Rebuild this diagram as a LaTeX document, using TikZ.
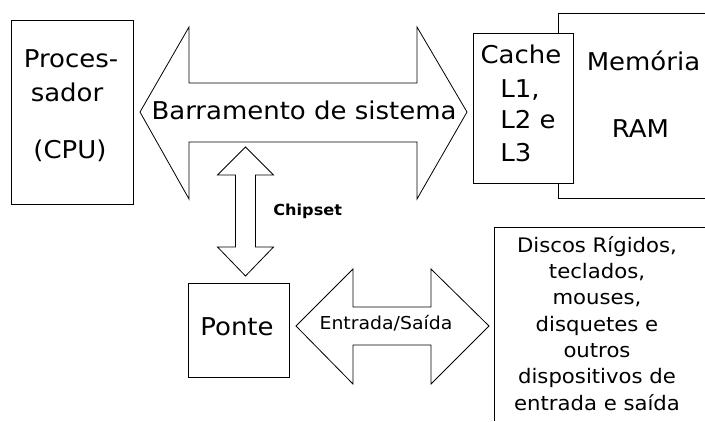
\documentclass[tikz,border=0pt]{standalone}
\usepackage{fontspec}
\setmainfont{DejaVu Sans}[FakeStretch=1.06]
\begin{document}
\begin{tikzpicture}[x=1pt,y=-1pt,line width=0.8pt,
  big/.style={font=\fontsize{24.5}{29}\selectfont,inner sep=0pt},
  mid/.style={font=\fontsize{20}{26.3}\selectfont,inner sep=0pt},
  small/.style={font=\fontsize{17.8}{22}\selectfont,inner sep=0pt},
  lbl/.style={font=\bfseries\fontsize{15.2}{19}\selectfont,inner sep=0pt},
  outl/.style={draw=black,fill=white,line join=miter}]
\useasboundingbox[fill=white] (0,0) rectangle (705,421);
% CPU
\draw[outl] (11,20) rectangle (133,204);
\node[big,anchor=base] (cpu1) at (71,67) {Proces-};
\node[big,anchor=base] (cpu2) at (67,101) {sador};
\node[big,anchor=base] (cpu3) at (70,158) {(CPU)};
% Memoria (open at right)
\draw[outl] (705,13) -- (558,13) -- (558,198) -- (705,198);
\node[big,anchor=base] (mem1) at (643.5,70) {Memória};
\node[big,anchor=base] (mem2) at (640.5,137) {RAM};
% Cache
\draw[outl] (473,33) rectangle (573,183);
\node[big,anchor=base] (c1) at (521,63) {Cache};
\node[big,anchor=base west] (c2) at (500,97) {L1,};
\node[big,anchor=base west] (c3) at (500,128) {L2 e};
\node[big,anchor=base west] (c4) at (500,161) {L3};
% System bus arrow
\draw[outl] (140,112) -- (189,27) -- (189,83) -- (417,83) -- (417,27) -- (467,112)
  -- (417,199) -- (417,142) -- (189,142) -- (189,199) -- cycle;
\node[big,anchor=base] (bus) at (304,119) {Barramento de sistema};
% Chipset arrow
\draw[outl] (245.5,147) -- (273.5,175) -- (255.5,175) -- (255.5,247) -- (273.5,247)
  -- (245.5,276) -- (217.5,247) -- (235.5,247) -- (235.5,175) -- (217.5,175) -- cycle;
\node[lbl,anchor=base west] (chip) at (273,215) {Chipset};
% Ponte
\draw[outl] (188,283) rectangle (289,377);
\node[big,anchor=base] (ponte) at (237,335) {Ponte};
% I/O arrow
\draw[outl] (296,326) -- (353,269) -- (353,307) -- (431,307) -- (431,269) -- (489,326)
  -- (431,384) -- (431,345) -- (353,345) -- (353,384) -- cycle;
\node[small,anchor=base] (es) at (386,329) {Entrada/Saída};
% Devices (open at right and bottom)
\draw[outl] (705,227) -- (494,227) -- (494,421);
\node[mid,anchor=base,align=center] (dev) at (597,410) {Discos Rígidos,\\teclados,\\mouses,\\disquetes e\\outros\\dispositivos de\\entrada e saída};
\end{tikzpicture}
\end{document}
